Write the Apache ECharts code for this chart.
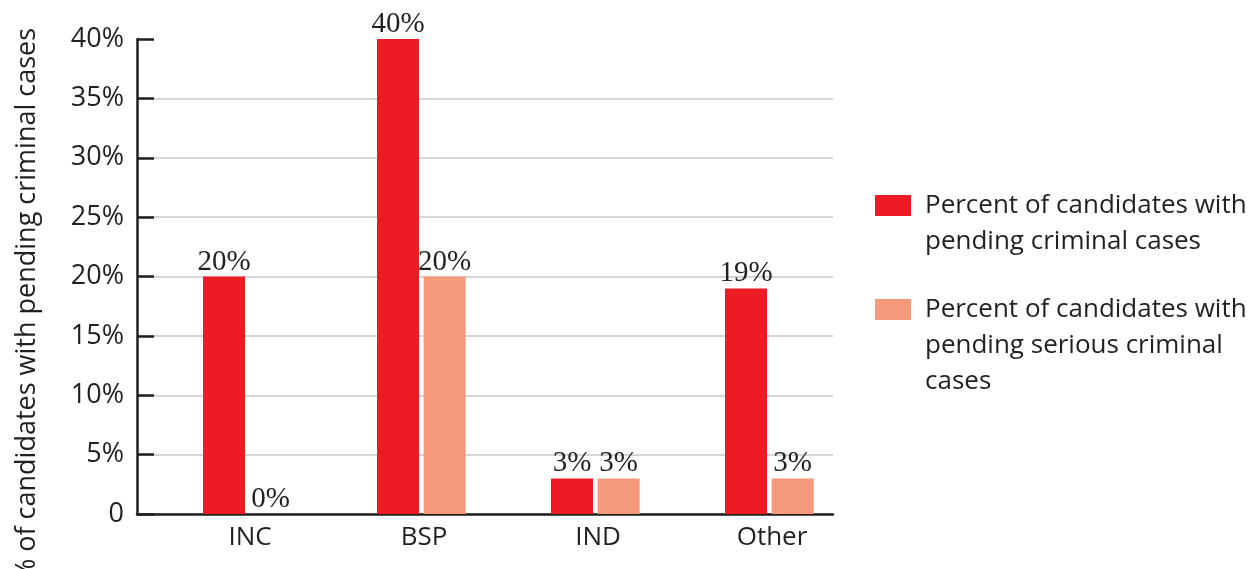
<!DOCTYPE html>
<html>
<head>
<meta charset="utf-8">
<script src="https://cdn.jsdelivr.net/npm/echarts@6/dist/echarts.min.js"></script>
<style>
html,body{margin:0;padding:0;background:#fff;}
#chart{width:1249px;height:569px;}
</style>
</head>
<body>
<div id="chart"></div>
<script>
const categories = ['INC', 'BSP', 'IND', 'Other'];
const pendingCases = [20, 40, 3, 19];
const seriousCases = [0, 20, 3, 3];
const seriesNames = ['Percent of candidates with pending criminal cases', 'Percent of candidates with pending serious criminal cases'];
const legendLines = [
  ['Percent of candidates with', 'pending criminal cases'],
  ['Percent of candidates with', 'pending serious criminal', 'cases']
];
const yTicks = [0, 5, 10, 15, 20, 25, 30, 35, 40];
const yTitle = '% of candidates with pending criminal cases';

const dark = '#231f20';
const sans = '"Open Sans", sans-serif';
const serif = '"Liberation Serif", serif';

const chart = echarts.init(document.getElementById('chart'), null, {renderer: 'canvas'});
const labelCfg = {
  show: true, position: 'top', distance: 0,
  formatter: '{c}%', fontFamily: serif, fontSize: 29, color: dark
};
function legendText(idx) {
  const lines = legendLines[idx];
  const pre = '\n'.repeat(lines.length - 1);
  return pre + lines.map(l => '{t|' + l + '}').join('\n');
}
function makeLegend(idx, top) {
  return {
    left: 875, top: top, padding: 0, orient: 'vertical',
    itemWidth: 36, itemHeight: 21, itemGap: 0,
    icon: 'rect',
    formatter: () => legendText(idx),
    textStyle: {
      fontFamily: sans, fontSize: 26, color: dark, lineHeight: 36,
      rich: {t: {fontFamily: sans, fontSize: 26, color: dark, lineHeight: 36, padding: [0, 0, 0, 9]}}
    },
    data: [seriesNames[idx]]
  };
}
chart.setOption({
  animation: false,
  grid: {left: 137, right: 416, top: 39, bottom: 55, containLabel: false, outerBoundsMode: 'none'},
  legend: [makeLegend(0, 151.5), makeLegend(1, 219.5)],
  xAxis: {
    type: 'category', data: categories,
    axisLine: {lineStyle: {color: dark, width: 2.5}},
    axisTick: {inside: true, length: 12, lineStyle: {color: dark, width: 2}},
    axisLabel: {fontFamily: sans, fontSize: 26, color: dark, margin: 11, padding: [0, 0, 0, 52]}
  },
  yAxis: {
    type: 'value', min: 0, max: 40, interval: 5,
    name: yTitle, nameLocation: 'middle', nameGap: 96,
    nameTextStyle: {fontFamily: sans, fontSize: 27, color: dark, padding: [0, 56, 0, 0]},
    axisLine: {show: true, lineStyle: {color: dark, width: 2.5}},
    axisTick: {show: true, inside: true, length: 17, lineStyle: {color: dark, width: 2.5}},
    axisLabel: {
      fontFamily: sans, fontSize: 27, color: dark, margin: 13, padding: [14, 0, 0, 0],
      formatter: v => (v === 0 ? '0' : v + '%')
    },
    splitLine: {show: true, lineStyle: {color: ['#c8c8c8','#c8c8c8','#c8c8c8','#c8c8c8','#c8c8c8','#c8c8c8','#c8c8c8','#c8c8c8','rgba(0,0,0,0)'], width: 1.5}}
  },
  series: [
    {
      name: 'spacer', type: 'bar', data: categories.map(() => '-'), barWidth: 42, barGap: '11%',
      silent: true, itemStyle: {color: 'rgba(0,0,0,0)'}, label: {show: false}
    },
    {
      name: seriesNames[0], type: 'bar', data: pendingCases, barWidth: 42, barGap: '11%',
      itemStyle: {color: '#ed1c24'}, label: labelCfg
    },
    {
      name: seriesNames[1], type: 'bar', data: seriousCases, barWidth: 42, barGap: '11%',
      itemStyle: {color: '#f5997b'}, label: labelCfg
    }
  ]
});
</script>
</body>
</html>
